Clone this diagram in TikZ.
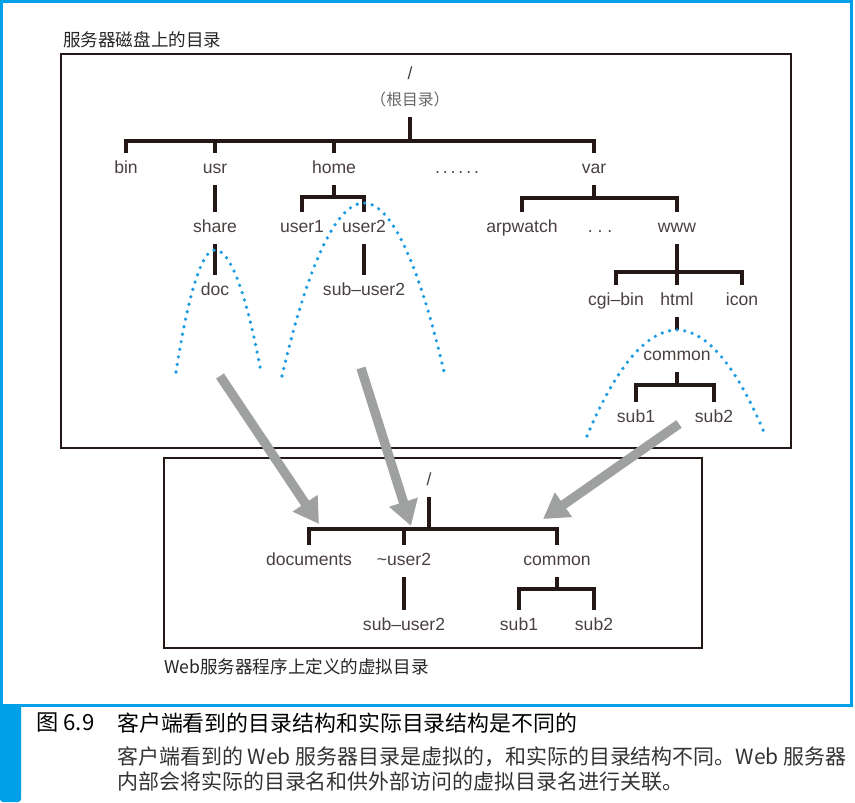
\documentclass[tikz,border=0pt]{standalone}
\usepackage{fontspec}
\setmainfont{Liberation Sans}
\newfontfamily\cjk{Noto Sans CJK SC}
\usetikzlibrary{arrows.meta, positioning}
\definecolor{framecyan}{HTML}{00A0E9}
\definecolor{dotcyan}{HTML}{1A9BE2}
\definecolor{arrowgray}{HTML}{9FA0A0}
\definecolor{dirtext}{HTML}{4A4040}
\definecolor{treeline}{HTML}{231815}

\begin{document}
\begin{tikzpicture}[x=0.3mm, y=-0.3mm,
  dir/.style={inner sep=0pt, minimum height=9.6mm, text height=0.9em, text depth=0.05em, font=\fontsize{15pt}{18pt}\selectfont, text=dirtext},
  heading/.style={anchor=west, inner sep=0pt, font=\cjk\fontsize{15pt}{18pt}\selectfont, text=black!85},
  frame/.style={draw=treeline, line width=0.5mm},
  branch/.style={draw=treeline, line width=1.2mm},
  zone/.style={draw=dotcyan, line width=1.1mm, line cap=round, dash pattern=on 0pt off 2.3mm},
  maparrow/.style={draw=arrowgray, line width=2.8mm, -{Triangle[length=7.5mm, width=8.5mm]}}
]
\useasboundingbox (0,0) rectangle (855,802);

% Outer frame
\draw[framecyan, line width=0.9mm] (1.5,1.5) rectangle (851,705);
\fill[framecyan] (0,704) -- (21,704) [rounded corners=0.9mm] -- (21,802) -- (0,802) [sharp corners] -- cycle;

% Boxes
\node[heading] (disktitle) at (63,40) {服务器磁盘上的目录};
\draw[frame] (61,54) rectangle (791,448);
\node[heading] (webtitle) at (164,667) {Web服务器程序上定义的虚拟目录};
\draw[frame] (164,458) rectangle (702,648);

% Disk tree
\node[dir] (root) at (410,75) {/};
\node[dir, font=\cjk\fontsize{13.5pt}{16pt}\selectfont, text=black!60] (rootnote) at (410,101) {（根目录）};
\node[dir] (bin) at (126,169) {bin};
\node[dir] (usr) at (215,169) {usr};
\node[dir] (home) at (334,169) {home};
\node[dir] (dotsA) at (457,169) {.\,.\,.\,.\,.\,.};
\node[dir] (var) at (594,169) {var};
\node[dir] (share) at (215,228) {share};
\node[dir] (user1) at (302,228) {user1};
\node[dir] (user2) at (364,228) {user2};
\node[dir] (arpwatch) at (522,228) {arpwatch};
\node[dir] (dotsB) at (600,228) {.~.~.};
\node[dir] (www) at (677,228) {www};
\node[dir] (doc) at (215,291) {doc};
\node[dir] (subuser) at (364,291) {sub--user2};
\node[dir] (cgibin) at (616,301) {cgi--bin};
\node[dir] (html) at (677,301) {html};
\node[dir] (icon) at (742,301) {icon};
\node[dir] (common) at (677,356) {common};
\node[dir] (subA) at (636,418) {sub1};
\node[dir] (subB) at (714,418) {sub2};

% Virtual tree
\node[dir] (vroot) at (429,481) {/};
\node[dir] (documents) at (309,561) {documents};
\node[dir] (vuser) at (404,561) {\textasciitilde user2};
\node[dir] (vcommon) at (557,561) {common};
\node[dir] (vsubuser) at (404,626) {sub--user2};
\node[dir] (vsubA) at (519,626) {sub1};
\node[dir] (vsubB) at (594,626) {sub2};

% Branch points
\coordinate (rootbar) at (410,141);
\coordinate (homebar) at (334,197);
\coordinate (varbar) at (594,198);
\coordinate (wwwbar) at (677,272);
\coordinate (webzone) at (677,330);
\coordinate (commonbar) at (677,385);
\coordinate (vrootbar) at (429,529);
\coordinate (vcommonbar) at (557,589);

% Connections
\draw[branch] (rootnote.south) -- (rootbar);
\foreach \d in {bin, usr, home, var}
  \draw[branch] (rootbar) -| (\d.north);
\draw[branch] (usr) -- (share);
\draw[branch] (share) -- (doc);
\draw[branch] (home.south) -- (homebar);
\foreach \d in {user1, user2}
  \draw[branch] (homebar) -| (\d.north);
\draw[branch] (user2) -- (subuser);
\draw[branch] (var.south) -- (varbar);
\foreach \d in {arpwatch, www}
  \draw[branch] (varbar) -| (\d.north);
\draw[branch] (www.south) -- (wwwbar);
\foreach \d in {cgibin, html, icon}
  \draw[branch] (wwwbar) -| (\d.north);
\draw[branch] (html.south) -- (webzone);
\draw[branch] (common.south) -- (commonbar);
\foreach \d in {subA, subB}
  \draw[branch] (commonbar) -| (\d.north);

\draw[branch] (vroot.south) -- (vrootbar);
\foreach \d in {documents, vuser, vcommon}
  \draw[branch] (vrootbar) -| (\d.north);
\draw[branch] (vuser) -- (vsubuser);
\draw[branch] (vcommon.south) -- (vcommonbar);
\foreach \d in {vsubA, vsubB}
  \draw[branch] (vcommonbar) -| (\d.north);

% Published zones
\draw[zone] (176,372) parabola bend (215,250) (261,372);
\draw[zone] (282,376) parabola bend (364,203) (445,376);
\draw[zone] (587,436) parabola bend (webzone) (766,437);

% Mapping arrows
\coordinate (tailA) at (220,376);
\coordinate (tipA) at (319,524);
\coordinate (tailB) at (361,368);
\coordinate (tipB) at (411,526);
\coordinate (tailC) at (679,424);
\coordinate (tipC) at (543,519);
\draw[maparrow] (tailA) -- (tipA);
\draw[maparrow] (tailB) -- (tipB);
\draw[maparrow] (tailC) -- (tipC);

% Caption
\node[anchor=west, inner sep=0pt, font=\cjk\fontsize{19pt}{22pt}\selectfont] (fignum) at (36,723) {图 6.9};
\node[anchor=west, inner sep=0pt, font=\cjk\fontsize{18.7pt}{22pt}\selectfont] (figtitle) at (117,723) {客户端看到的目录结构和实际目录结构是不同的};
\node[anchor=west, inner sep=0pt, font=\cjk\fontsize{17.9pt}{20pt}\selectfont, text=black!80] (figbody) at (117,757) {客户端看到的 Web 服务器目录是虚拟的，和实际的目录结构不同。Web 服务器};
\node[anchor=west, inner sep=0pt, font=\cjk\fontsize{17.9pt}{20pt}\selectfont, text=black!80] (figbodyB) at (117,782) {内部会将实际的目录名和供外部访问的虚拟目录名进行关联。};

\end{tikzpicture}
\end{document}
